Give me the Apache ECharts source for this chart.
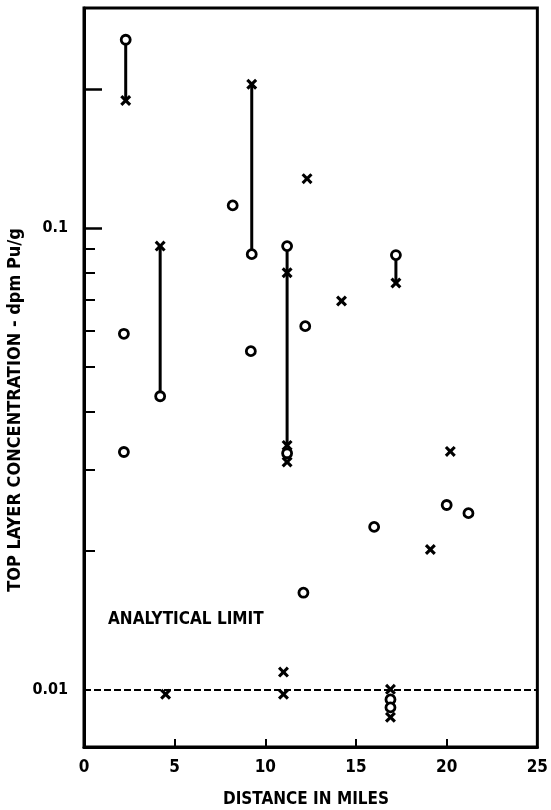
<!DOCTYPE html>
<html>
<head>
<meta charset="utf-8">
<script src="https://cdn.jsdelivr.net/npm/echarts@6/dist/echarts.min.js"></script>
<style>
html,body{margin:0;padding:0;background:#fff;}
#chart{width:551px;height:810px;}
</style>
</head>
<body>
<div id="chart"></div>
<script>
// Circles (o)
const circleX = [2.3, 2.2, 2.2, 4.2, 8.2, 9.25, 9.2, 11.2, 11.2, 12.2, 12.1, 16.0, 17.2, 16.9, 16.9, 20.0, 21.2];
const circleY = [0.256, 0.059, 0.0327, 0.0432, 0.112, 0.0878, 0.0541, 0.0914, 0.0325, 0.0613, 0.0162, 0.0225, 0.0874, 0.00951, 0.00914, 0.0251, 0.0241];
// Crosses (x)
const crossX = [2.3, 4.2, 9.25, 11.2, 11.2, 11.2, 12.3, 14.2, 17.2, 20.2, 19.1, 11.0, 11.0, 4.5, 16.9, 16.9];
const crossY = [0.189, 0.0914, 0.205, 0.080, 0.0338, 0.0311, 0.128, 0.0695, 0.076, 0.0328, 0.0201, 0.0109, 0.00976, 0.00976, 0.0100, 0.0087];
// Vertical connectors between paired samples
const pairX = [2.3, 4.2, 9.25, 11.2, 17.2];
const pairHigh = [0.256, 0.0914, 0.205, 0.0914, 0.0874];
const pairLow = [0.189, 0.0432, 0.0878, 0.0338, 0.076];
// Axis ticks / labels
const xTicks = [0, 5, 10, 15, 20, 25];
const yLabelValues = [0.01, 0.1];
const yShortTicks = [0.02, 0.03, 0.04, 0.05, 0.06, 0.07, 0.08, 0.09];
const yLongTicks = [0.1, 0.2];
const analyticalLimit = 0.01;

const FONT = "'Liberation Sans Narrow','DejaVu Sans Condensed','Liberation Sans',sans-serif";
const crossPath = 'path://M0,2 L2,0 L5,3 L8,0 L10,2 L7,5 L10,8 L8,10 L5,7 L2,10 L0,8 L3,5 Z';

const chart = echarts.init(document.getElementById('chart'), null, {renderer: 'canvas'});

const pairSeries = pairX.map((x, i) => ({
  type: 'line',
  data: [[x, pairHigh[i]], [x, pairLow[i]]],
  symbol: 'none',
  lineStyle: {color: '#000', width: 3, opacity: 1},
  silent: true,
  z: 2
}));

const yBase = {
  type: 'log',
  min: 0.0075,
  max: 0.3,
  position: 'left',
  splitLine: {show: false},
  minorTick: {show: false}
};

const option = {
  backgroundColor: '#fff',
  animation: false,
  grid: {
    left: 84, right: 3, top: 8, bottom: 63,
    show: true, borderColor: '#000', borderWidth: 3, backgroundColor: 'transparent'
  },
  xAxis: {
    type: 'value',
    min: 0, max: 25, interval: 5,
    axisLine: {show: true, lineStyle: {color: '#000', width: 3}},
    axisTick: {show: true, inside: true, length: 8, lineStyle: {color: '#000', width: 2}, customValues: xTicks.slice(1, -1)},
    axisLabel: {
      customValues: xTicks,
      color: '#000', fontSize: 17, fontWeight: 'bold', fontFamily: FONT, margin: 12,
      formatter: v => String(Math.round(v))
    },
    splitLine: {show: false}
  },
  yAxis: [
    Object.assign({}, yBase, {
      axisLine: {show: true, lineStyle: {color: '#000', width: 3}},
      axisTick: {show: true, inside: true, length: 11, lineStyle: {color: '#000', width: 2}, customValues: yShortTicks},
      axisLabel: {
        customValues: yLabelValues,
        color: '#000', fontSize: 16, fontWeight: 'bold', fontFamily: FONT, margin: 16,
        formatter: v => (Math.abs(v - 0.1) < 1e-6 ? '0.1' : '0.01')
      }
    }),
    Object.assign({}, yBase, {
      axisLine: {show: false},
      axisTick: {show: true, inside: true, length: 18, lineStyle: {color: '#000', width: 2.5}, customValues: yLongTicks},
      axisLabel: {show: false}
    })
  ],
  graphic: [
    {
      type: 'text', left: 108, top: 611,
      style: {text: 'ANALYTICAL LIMIT', fill: '#000', font: "bold 17px " + FONT}
    },
    {
      type: 'text', x: 15, y: 410, rotation: Math.PI / 2,
      style: {text: 'TOP LAYER CONCENTRATION - dpm Pu/g', fill: '#000', font: "bold 18px " + FONT, align: 'center', verticalAlign: 'middle'}
    },
    {
      type: 'text', x: 306, y: 800,
      style: {text: 'DISTANCE IN MILES', fill: '#000', font: "bold 17px " + FONT, align: 'center', verticalAlign: 'middle'}
    }
  ],
  series: pairSeries.concat([
    {
      type: 'scatter',
      name: 'limit',
      data: [],
      markLine: {
        silent: true,
        symbol: 'none',
        label: {show: false},
        lineStyle: {color: '#000', type: [7, 3], width: 2, opacity: 1},
        data: [{yAxis: analyticalLimit}]
      }
    },
    {
      type: 'scatter',
      data: crossX.map((x, i) => [x, crossY[i]]),
      symbol: crossPath,
      symbolSize: 11,
      itemStyle: {color: '#000', opacity: 1},
      z: 4
    },
    {
      type: 'scatter',
      data: circleX.map((x, i) => [x, circleY[i]]),
      symbol: 'circle',
      symbolSize: 9,
      itemStyle: {color: '#fff', borderColor: '#000', borderWidth: 2.8, opacity: 1},
      z: 5
    }
  ])
};

chart.setOption(option);
</script>
</body>
</html>
